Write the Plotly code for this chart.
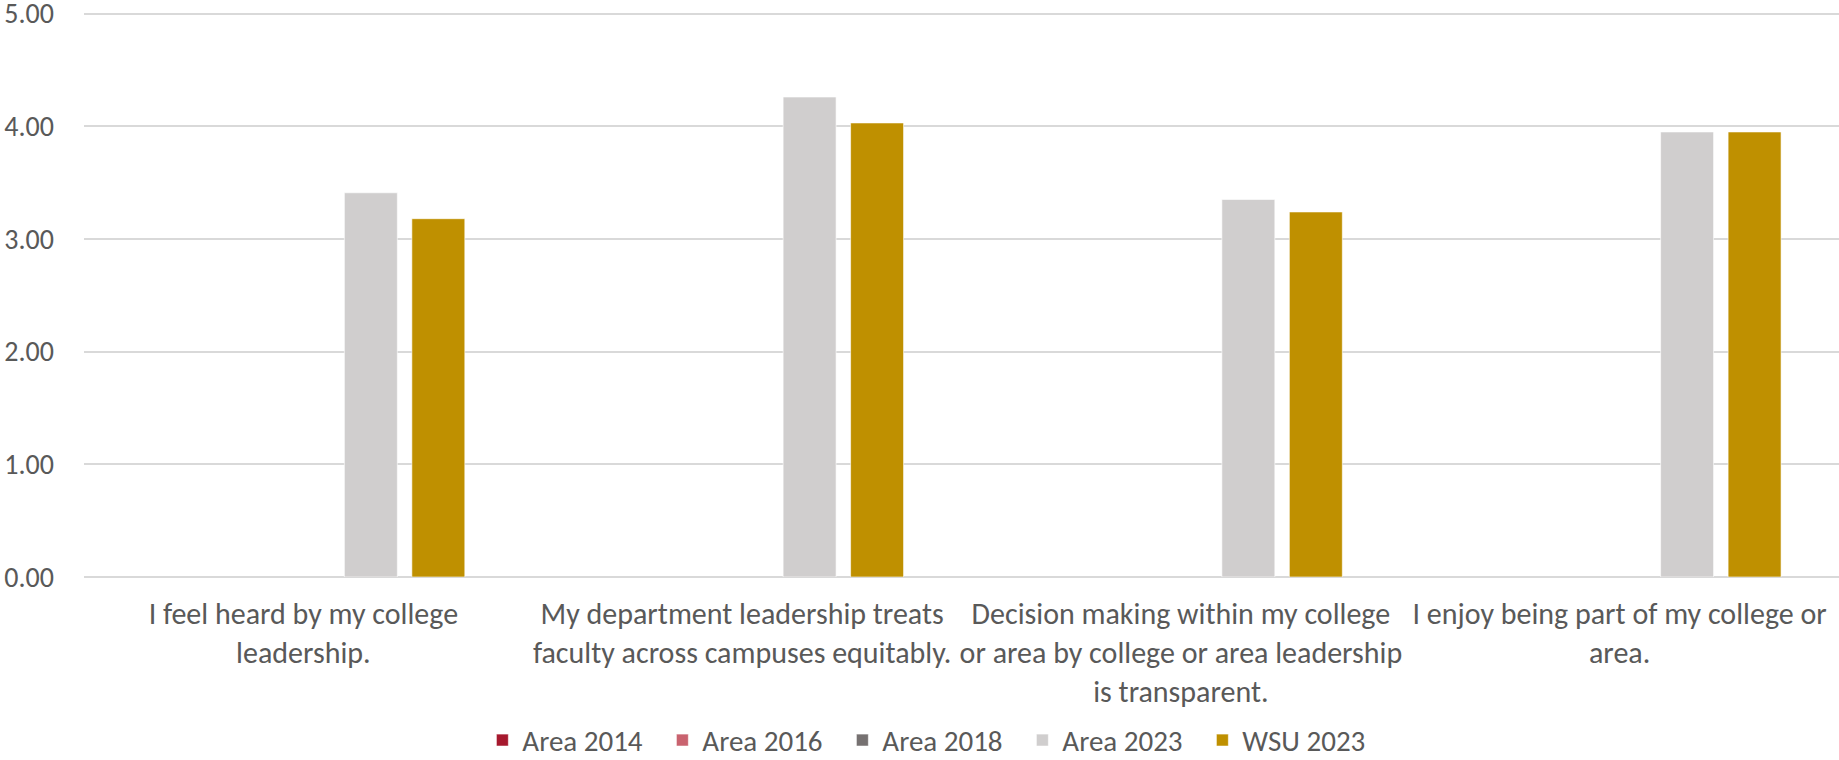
import plotly.graph_objects as go

categories = [
    "I feel heard by my college<br>leadership.",
    "My department leadership treats<br>faculty across campuses equitably.",
    "Decision making within my college<br>or area by college or area leadership<br>is transparent.",
    "I enjoy being part of my college or<br>area.",
]

series_names = ["Area 2014", "Area 2016", "Area 2018", "Area 2023", "WSU 2023"]
area_2014 = [None, None, None, None]
area_2016 = [None, None, None, None]
area_2018 = [None, None, None, None]
area_2023 = [3.41, 4.26, 3.35, 3.95]
wsu_2023 = [3.18, 4.03, 3.24, 3.95]
series_values = [area_2014, area_2016, area_2018, area_2023, wsu_2023]
series_colors = ["#A6192E", "#C9636F", "#767171", "#D0CECE", "#BF9000"]

y_ticks = [0, 1, 2, 3, 4, 5]
y_tick_labels = ["0.00", "1.00", "2.00", "3.00", "4.00", "5.00"]

FONT = "Calibri, Carlito, Lato, sans-serif"
TEXT = "#595959"

fig = go.Figure()
for name, vals, col in zip(series_names, series_values, series_colors):
    fig.add_trace(go.Bar(
        name=name, x=categories, y=vals,
        marker=dict(color=col, line=dict(color="rgba(255,255,255,0.6)", width=1)),
    ))

fig.update_layout(
    width=1839, height=760,
    margin=dict(l=84, r=0, t=8, b=183, autoexpand=False),
    paper_bgcolor="white", plot_bgcolor="white",
    barmode="group", bargap=0.231, bargroupgap=0.215,
    font=dict(family=FONT, size=28, color=TEXT),
    showlegend=True,
    legend=dict(
        orientation="h", xref="container", yref="container",
        x=0.507, xanchor="center", y=0.026, yanchor="middle",
        font=dict(family=FONT, size=29, color=TEXT),
        itemwidth=30, tracegroupgap=0, entrywidth=135,
        borderwidth=0,
    ),
)
fig.update_xaxes(
    showgrid=False, showline=False, zeroline=False, automargin=False,
    ticks="", tickfont=dict(family=FONT, size=30, color=TEXT),
    ticklabelstandoff=16,
)
fig.update_yaxes(
    range=[0, 5.05], tickvals=y_ticks, ticktext=y_tick_labels, automargin=False,
    showgrid=True, gridcolor="#D9D9D9", gridwidth=1.5,
    zeroline=True, zerolinecolor="#D9D9D9", zerolinewidth=1.5,
    showline=False, ticks="",
    tickfont=dict(family=FONT, size=28, color=TEXT),
    ticklabelstandoff=29, ticklabeloverflow="allow",
)

fig.write_html(
    "out.html",
    config={"displayModeBar": False},
    post_script="document.body.style.margin='0px';document.body.style.overflow='hidden';",
)
